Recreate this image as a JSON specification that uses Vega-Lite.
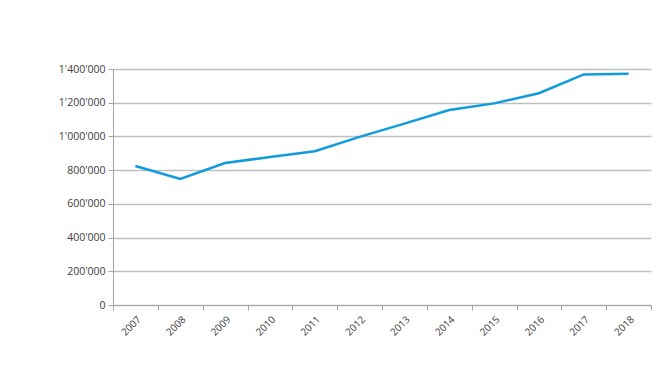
{
  "$schema": "https://vega.github.io/schema/vega-lite/v6.json",
  "width": 538,
  "height": 236,
  "autosize": {"type": "none"},
  "padding": {"left": 113, "top": 69, "right": 19, "bottom": 64},
  "background": "white",
  "data": {"values": [
    {"year": "2007", "value": 825000},
    {"year": "2008", "value": 748000},
    {"year": "2009", "value": 842000},
    {"year": "2010", "value": 878000},
    {"year": "2011", "value": 912000},
    {"year": "2012", "value": 997000},
    {"year": "2013", "value": 1076000},
    {"year": "2014", "value": 1157000},
    {"year": "2015", "value": 1196000},
    {"year": "2016", "value": 1256000},
    {"year": "2017", "value": 1368000},
    {"year": "2018", "value": 1372000}
  ]},
  "mark": {"type": "line", "color": "#0f9bdc", "strokeWidth": 2.5},
  "encoding": {
    "x": {
      "field": "year", "type": "ordinal", "title": null,
      "scale": {"paddingInner": 0, "paddingOuter": 0},
      "axis": {"labelAngle": -45, "tickBand": "extent", "domainColor": "#a6a6a6", "tickColor": "#a6a6a6", "tickSize": 5, "labelFontSize": 10, "labelColor": "#404040", "labelFont": "Open Sans", "labelPadding": 4}
    },
    "y": {
      "field": "value", "type": "quantitative", "title": null,
      "scale": {"domain": [0, 1400000]},
      "axis": {"values": [0, 200000, 400000, 600000, 800000, 1000000, 1200000, 1400000], "labelExpr": "replace(format(datum.value, ','), regexp(',', 'g'), \"'\")", "domainColor": "#a6a6a6", "tickColor": "#a6a6a6", "tickSize": 5, "gridColor": "#bfbfbf", "gridWidth": 1.3, "labelFontSize": 10.5, "labelColor": "#404040", "labelFont": "Open Sans", "labelPadding": 3}
    }
  },
  "config": {"view": {"stroke": null}}
}
